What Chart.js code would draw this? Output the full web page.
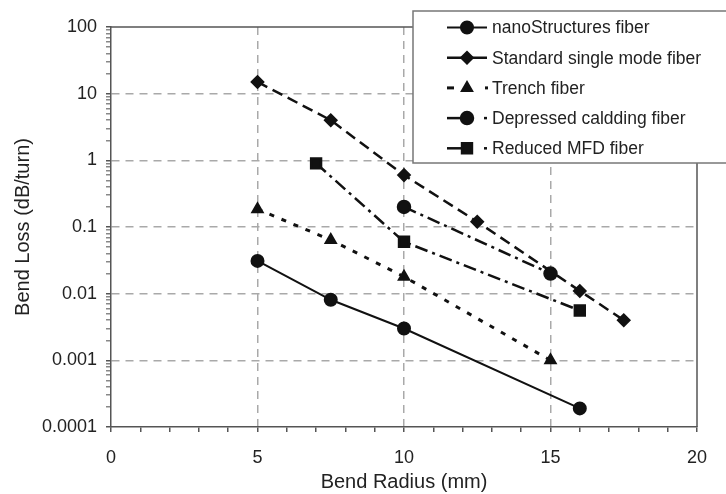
<!DOCTYPE html>
<html>
<head>
<meta charset="utf-8">
<script src="https://cdn.jsdelivr.net/npm/chart.js@4.4.1/dist/chart.umd.min.js"></script>
<style>
  html, body { margin: 0; padding: 0; background: #fff; }
  #wrap { width: 726px; height: 494px; }
</style>
</head>
<body>
<div id="wrap"><canvas id="bendLossChart" width="726" height="494"></canvas></div>
<script>
// values (bend radius in mm, loss in dB/turn)
const nanoX = [5, 7.5, 10, 16];
const nanoY = [0.031, 0.0081, 0.003, 0.00019];
const ssmfX = [5, 7.5, 10, 12.5, 16, 17.5];
const ssmfY = [15, 4, 0.6, 0.12, 0.011, 0.004];
const trenchX = [5, 7.5, 10, 15];
const trenchY = [0.185, 0.064, 0.018, 0.001];
const depressedX = [10, 15];
const depressedY = [0.2, 0.02];
const mfdX = [7, 10, 16];
const mfdY = [0.9, 0.06, 0.0056];

const seriesNames = ["nanoStructures fiber", "Standard single mode fiber", "Trench fiber",
  "Depressed caldding fiber", "Reduced MFD fiber"];

const yDecades = [0.0001, 0.001, 0.01, 0.1, 1, 10, 100];
const yTickLabels = ["0.0001", "0.001", "0.01", "0.1", "1", "10", "100"];
const yMinorSteps = [2, 3, 4, 5, 6, 7, 8, 9];
const xTickLabels = [0, 5, 10, 15, 20];

const FONT = "'Liberation Sans', Arial, sans-serif";
const INK = "#111";
const GRID = "#a9a9a9";

// legend sample pieces (offsets along a 40px sample), like the figure's key
const legendPieces = [
  [[0, 40]],
  [[0, 40]],
  [[0, 7], [38, 41]],
  [[0, 16], [37, 40]],
  [[0, 16], [37, 40]]
];

const toPoints = (xs, ys) => xs.map((x, i) => ({ x: x, y: ys[i] }));

function isDecade(v) {
  return yDecades.some(d => Math.abs(d - v) / d < 1e-6);
}

// top/right edges of the plot box
const frameBox = {
  id: "frameBox",
  beforeDatasetsDraw(chart) {
    const { ctx, chartArea: a } = chart;
    ctx.save();
    ctx.strokeStyle = "#555";
    ctx.lineWidth = 1.5;
    ctx.beginPath();
    ctx.moveTo(a.left, a.top);
    ctx.lineTo(a.right, a.top);
    ctx.lineTo(a.right, a.bottom);
    ctx.stroke();
    ctx.restore();
  }
};

// legend drawn as an overlay box in the upper right corner
const boxLegend = {
  id: "boxLegend",
  afterDraw(chart) {
    const ctx = chart.ctx;
    ctx.save();
    ctx.fillStyle = "#fff";
    ctx.strokeStyle = "#777";
    ctx.lineWidth = 1.5;
    ctx.fillRect(413, 11, 320, 152);
    ctx.strokeRect(413, 11, 320, 152);

    chart.data.datasets.forEach((ds, i) => {
      const y = 27.5 + i * 30.2;
      ctx.strokeStyle = INK;
      ctx.lineWidth = ds.borderWidth;
      legendPieces[i].forEach(p => {
        ctx.beginPath();
        ctx.moveTo(447 + p[0], y);
        ctx.lineTo(447 + p[1], y);
        ctx.stroke();
      });
      ctx.fillStyle = INK;
      Chart.helpers.drawPoint(ctx, {
        pointStyle: ds.pointStyle,
        radius: ds.pointRadius,
        rotation: 0,
        borderWidth: 1
      }, 467, y);
      ctx.fillStyle = "#222";
      ctx.font = "17.5px " + FONT;
      ctx.textBaseline = "middle";
      ctx.fillText(ds.label, 492, y + 1);
    });
    ctx.restore();
  }
};

function makeSet(i, xs, ys, style, radius, dash, width) {
  return {
    label: seriesNames[i],
    data: toPoints(xs, ys),
    borderColor: INK,
    backgroundColor: INK,
    pointBackgroundColor: INK,
    pointBorderColor: INK,
    pointStyle: style,
    pointRadius: radius,
    pointHoverRadius: radius,
    borderWidth: width,
    borderDash: dash,
    tension: 0,
    fill: false
  };
}

new Chart(document.getElementById("bendLossChart").getContext("2d"), {
  type: "line",
  data: {
    datasets: [
      makeSet(0, nanoX, nanoY, "circle", 6, [], 2),
      makeSet(1, ssmfX, ssmfY, "rectRot", 5.5, [11, 6], 2.5),
      makeSet(2, trenchX, trenchY, "triangle", 5, [5, 8], 3),
      makeSet(3, depressedX, depressedY, "circle", 6, [13, 5, 3, 5], 2.5),
      makeSet(4, mfdX, mfdY, "rect", 7, [13, 5, 3, 5], 2.5)
    ]
  },
  options: {
    responsive: false,
    animation: false,
    devicePixelRatio: 1,
    layout: { padding: { top: 27, right: 29, left: 0, bottom: 0 } },
    plugins: {
      legend: { display: false },
      tooltip: { enabled: false }
    },
    scales: {
      x: {
        type: "linear",
        min: 0,
        max: 20,
        afterFit: s => { s.height = 67; },
        ticks: {
          stepSize: 1,
          autoSkip: false,
          maxRotation: 0,
          padding: 15,
          color: "#222",
          font: { family: FONT, size: 18 },
          callback: v => (xTickLabels.includes(v) ? String(v) : "")
        },
        grid: {
          color: c => (c.tick && [5, 10, 15].includes(c.tick.value) ? GRID : "rgba(0,0,0,0)"),
          lineWidth: 1.5,
          tickColor: "#555",
          tickLength: 5,
          tickBorderDash: []
        },
        border: { color: "#555", width: 1.5, dash: [8, 6] },
        title: {
          display: true,
          text: "Bend Radius (mm)",
          color: "#222",
          font: { family: FONT, size: 20 },
          padding: { top: 0, bottom: 0 }
        }
      },
      y: {
        type: "logarithmic",
        min: 0.0001,
        max: 100,
        afterFit: s => { s.width = 111; },
        afterBuildTicks: s => {
          const vals = [];
          yDecades.forEach((d, k) => {
            vals.push(d);
            if (k < yDecades.length - 1) yMinorSteps.forEach(m => vals.push(d * m));
          });
          s.ticks = vals.map(v => ({ value: v }));
        },
        ticks: {
          autoSkip: false,
          padding: 9,
          color: "#222",
          font: { family: FONT, size: 18 },
          callback: v => {
            const k = yDecades.findIndex(d => Math.abs(d - v) / d < 1e-6);
            return k >= 0 ? yTickLabels[k] : "";
          }
        },
        grid: {
          color: c => (c.tick && isDecade(c.tick.value) && c.tick.value > 0.0002 && c.tick.value < 99 ? GRID : "rgba(0,0,0,0)"),
          lineWidth: 1.5,
          tickColor: c => (c.tick && isDecade(c.tick.value) ? "#555" : "#888"),
          tickLength: 5,
          tickBorderDash: []
        },
        border: { color: "#555", width: 1.5, dash: [8, 6] },
        title: {
          display: true,
          text: "Bend Loss (dB/turn)",
          color: "#222",
          font: { family: FONT, size: 20 },
          padding: { top: 11, bottom: 0 }
        }
      }
    }
  },
  plugins: [frameBox, boxLegend]
});
</script>
</body>
</html>
